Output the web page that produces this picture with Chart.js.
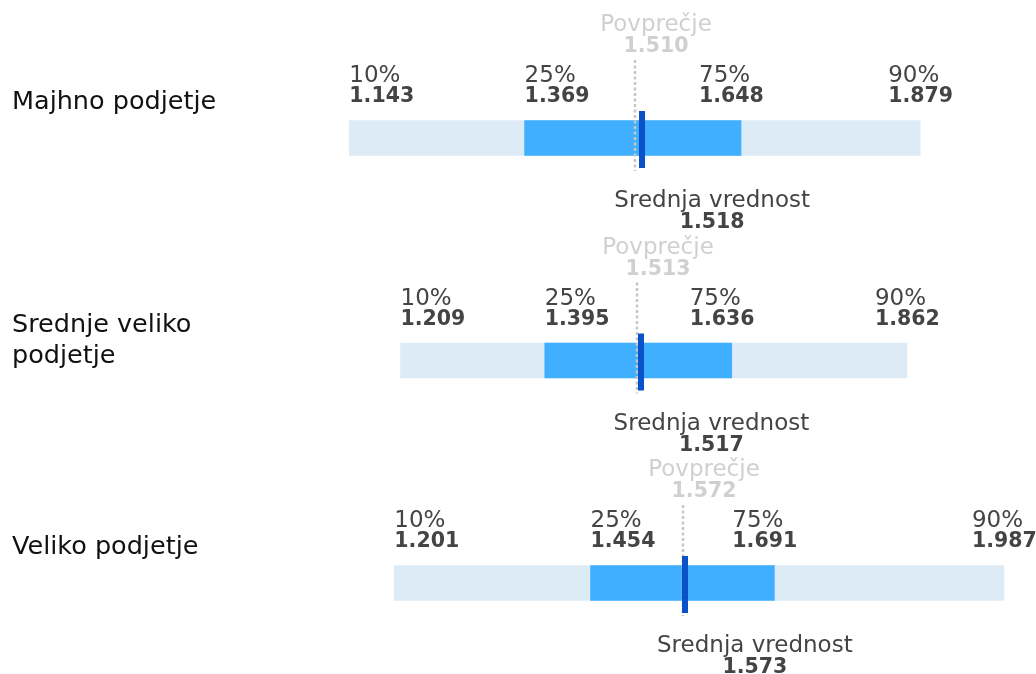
<!DOCTYPE html>
<html>
<head>
<meta charset="utf-8">
<script src="https://cdn.jsdelivr.net/npm/chart.js@4/dist/chart.umd.min.js"></script>
<style>
  html, body { margin: 0; padding: 0; background: #fff; }
  #wrap { width: 1036px; height: 674px; }
</style>
</head>
<body>
<div id="wrap"><canvas id="benchChart" width="1036" height="674"></canvas></div>
<script>
// ===== DATA =====
const categories = [["Majhno podjetje", ""], ["Srednje veliko", "podjetje"], ["Veliko podjetje", ""]];
const p10 = [1.143, 1.209, 1.201];
const p25 = [1.369, 1.395, 1.454];
const p75 = [1.648, 1.636, 1.691];
const p90 = [1.879, 1.862, 1.987];
const medians = [1.518, 1.517, 1.573];
const averages = [1.510, 1.513, 1.572];
const pctNames = ["10%", "25%", "75%", "90%"];

const FONT = "'DejaVu Sans', sans-serif";
const fmt = v => v.toFixed(3);

/* ===== LABELS, MEDIAN + AVERAGE MARKERS ===== */
const markerPlugin = {
  id: "markers",
  afterDatasetsDraw(chart) {
    const ctx = chart.ctx;
    const x = chart.scales.x;
    const y = chart.scales.y;
    const shift = [0, 0, -42, -32]; // label nudges per percentile

    ctx.save();
    categories.forEach((c, i) => {
      const cy = y.getPixelForValue(i);

      // average: dotted line
      const ax = Math.round(x.getPixelForValue(averages[i]) + 1);
      ctx.strokeStyle = "#c6c6c6";
      ctx.lineWidth = 2.5;
      ctx.setLineDash([3, 2.5]);
      ctx.beginPath();
      ctx.moveTo(ax, cy - 78);
      ctx.lineTo(ax, cy + 33);
      ctx.stroke();
      ctx.setLineDash([]);

      // median: solid dark bar
      const mx = x.getPixelForValue(medians[i]);
      ctx.fillStyle = "#0a52c9";
      ctx.fillRect(Math.round(mx - 1), cy - 27, 6, 57);

      // percentile labels
      ctx.textAlign = "left";
      ctx.textBaseline = "alphabetic";
      [p10, p25, p75, p90].forEach((arr, k) => {
        const px = x.getPixelForValue(arr[i]) + shift[k];
        ctx.fillStyle = "#444";
        ctx.font = "23px " + FONT;
        ctx.fillText(pctNames[k], px, cy - 56);
        ctx.font = "bold 20.5px " + FONT;
        ctx.fillText(fmt(arr[i]), px, cy - 36);
      });

      // average label
      ctx.textAlign = "center";
      ctx.fillStyle = "#d0d0d0";
      ctx.font = "23px " + FONT;
      ctx.fillText("Povprečje", ax + 21, cy - 107);
      ctx.font = "bold 20.5px " + FONT;
      ctx.fillText(fmt(averages[i]), ax + 21, cy - 86);

      // median label
      ctx.fillStyle = "#444";
      ctx.font = "23px " + FONT;
      ctx.fillText("Srednja vrednost", mx + 72, cy + 69);
      ctx.font = "bold 20.5px " + FONT;
      ctx.fillText(fmt(medians[i]), mx + 72, cy + 90);
    });
    ctx.restore();
  }
};

/* ===== CHART ===== */
const ctx = document.getElementById("benchChart").getContext("2d");

const benchChart = new Chart(ctx, {
  type: "bar",
  data: {
    labels: categories,
    datasets: [
      {
        label: "25%-75%",
        data: p25.map((v, i) => [v, p75[i]]),
        backgroundColor: "#40afff",
        barThickness: 35,
        grouped: false,
        clip: false
      },
      {
        label: "10%-90%",
        data: p10.map((v, i) => [v, p90[i]]),
        backgroundColor: "#dcebf6",
        barThickness: 35,
        grouped: false,
        clip: false
      }
    ]
  },
  options: {
    indexAxis: "y",
    responsive: false,
    animation: false,
    layout: {
      padding: { left: 12, right: 22, top: 138, bottom: 91 }
    },
    plugins: {
      legend: { display: false },
      tooltip: { enabled: false }
    },
    scales: {
      x: {
        display: false,
        min: 1.1,
        max: 2.0
      },
      y: {
        offset: false,
        grid: { display: false },
        border: { display: false },
        afterFit: (scale) => { scale.width = 304; },
        ticks: {
          crossAlign: "far",
          padding: 0,
          labelOffset: -20,
          color: "#111",
          font: { family: FONT, size: 25.5, lineHeight: 1.22 }
        }
      }
    }
  },
  plugins: [markerPlugin]
});
</script>
</body>
</html>
